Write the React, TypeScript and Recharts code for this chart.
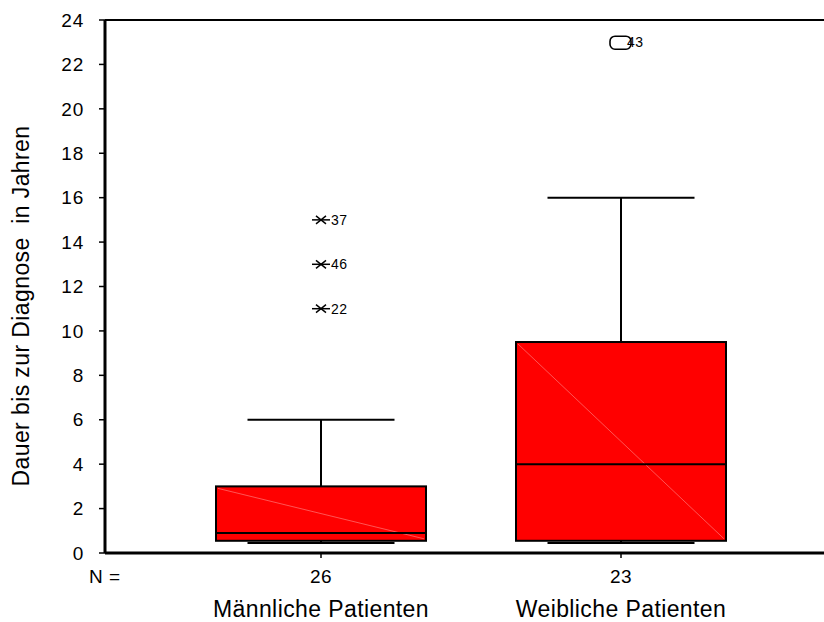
import React from 'react';
import {
  ComposedChart, Bar, Scatter, XAxis, YAxis, ReferenceLine,
} from 'recharts';

// groups and their sample sizes
const groups = ['Männliche Patienten', 'Weibliche Patienten'];
const nCounts = [26, 23];

// five-number summaries per group
const lowWhisker = [0.45, 0.45];
const q1 = [0.55, 0.55];
const median = [0.9, 4];
const q3 = [3, 9.5];
const highWhisker = [6, 16];

// outliers: kind 'ext' = extreme (asterisk), 'out' = outlier (circle)
const outliers = [
  { group: 0, value: 15, id: '37', kind: 'ext' },
  { group: 0, value: 13, id: '46', kind: 'ext' },
  { group: 0, value: 11, id: '22', kind: 'ext' },
  { group: 1, value: 23, id: '43', kind: 'out' },
];

const yTicks = [0, 2, 4, 6, 8, 10, 12, 14, 16, 18, 20, 22, 24];
const yTitle = 'Dauer bis zur Diagnose  in Jahren';

const font = 'Liberation Sans, Arial, sans-serif';
const RED = '#ff0000';

const data = groups.map((g, i) => {
  const row: any = {
    group: g,
    base: lowWhisker[i],
    lowWhisk: q1[i] - lowWhisker[i],
    box: q3[i] - q1[i],
    upWhisk: highWhisker[i] - q3[i],
    median: median[i],
  };
  outliers.forEach((o) => {
    if (o.group === i) row['o' + o.id] = o.value;
  });
  return row;
});

const CAP = 147;

const BoxShape = (p: any) => {
  const { x, y, width, height } = p;
  return (
    <g>
      <rect x={x} y={y} width={width} height={height} fill={RED} stroke="#000" strokeWidth={2} />
      <line x1={x + 2} y1={y + 2} x2={x + width - 2} y2={y + height - 2} stroke="#ff6a6a" strokeWidth={0.8} />
    </g>
  );
};

const LowWhiskerShape = (p: any) => {
  const { x, y, width, height } = p;
  const cx = x + width / 2;
  const by = y + height;
  return (
    <g>
      <line x1={cx} y1={y} x2={cx} y2={by} stroke="#000" strokeWidth={2} />
      <line x1={cx - CAP / 2} y1={by} x2={cx + CAP / 2} y2={by} stroke="#000" strokeWidth={2} />
    </g>
  );
};

const HighWhiskerShape = (p: any) => {
  const { x, y, width, height } = p;
  const cx = x + width / 2;
  return (
    <g>
      <line x1={cx} y1={y} x2={cx} y2={y + height} stroke="#000" strokeWidth={2} />
      <line x1={cx - CAP / 2} y1={y} x2={cx + CAP / 2} y2={y} stroke="#000" strokeWidth={2} />
    </g>
  );
};

const MedianShape = (p: any) => {
  const { cx, cy } = p;
  if (cx == null || cy == null || isNaN(cx) || isNaN(cy)) return <g />;
  return <line x1={cx - 105} y1={cy} x2={cx + 105} y2={cy} stroke="#000" strokeWidth={2} />;
};

const makeOutlierShape = (id: string, kind: string) => (p: any) => {
  const { cx, cy, payload } = p;
  if (payload == null || payload['o' + id] == null || isNaN(cx) || isNaN(cy)) return <g />;
  if (kind === 'ext') {
    return (
      <g>
        <line x1={cx - 9} y1={cy} x2={cx + 9} y2={cy} stroke="#000" strokeWidth={1.5} />
        <line x1={cx - 5} y1={cy - 4} x2={cx + 5} y2={cy + 4} stroke="#000" strokeWidth={1.5} />
        <line x1={cx - 5} y1={cy + 4} x2={cx + 5} y2={cy - 4} stroke="#000" strokeWidth={1.5} />
        <text x={cx + 10} y={cy + 5} fontSize={14} letterSpacing={0.5} fontFamily={font} fill="#000">{id}</text>
      </g>
    );
  }
  return (
    <g>
      <text x={cx + 6} y={cy + 5} fontSize={14} letterSpacing={0.5} fontFamily={font} fill="#000">{id}</text>
      <rect x={cx - 11} y={cy - 6} width={21} height={13} rx={5} fill="none" stroke="#000" strokeWidth={1.6} />
    </g>
  );
};

const XTick = (p: any) => {
  const { x, y, payload } = p;
  const i = groups.indexOf(payload.value);
  return (
    <g fontFamily={font} fill="#000">
      <text x={x} y={y + 23} textAnchor="middle" fontSize={19} letterSpacing={0.5}>{nCounts[i]}</text>
      <text x={x} y={y + 57} textAnchor="middle" fontSize={23} letterSpacing={0.4}>{payload.value}</text>
    </g>
  );
};

export default function App() {
  return (
    <div style={{ position: 'absolute', left: 0, top: 0, background: '#fff' }}>
      <ComposedChart
        width={824}
        height={622}
        data={data}
        margin={{ top: 20, right: 0, bottom: 9, left: 0 }}
      >
        <XAxis
          dataKey="group"
          type="category"
          padding={{ left: 66, right: 53 }}
          height={60}
          tickSize={5}
          tickMargin={2}
          axisLine={{ stroke: '#000', strokeWidth: 3 }}
          tickLine={{ stroke: '#000', strokeWidth: 1.5 }}
          tick={<XTick />}
          interval={0}
          label={{
            content: (lp: any) => {
              const vb = lp.viewBox || { x: 105, y: 553 };
              return (
                <text x={vb.x - 16} y={vb.y + 30} fontFamily={font} fontSize={19} letterSpacing={0.5} fill="#000">N =</text>
              );
            },
          }}
        />
        <YAxis
          type="number"
          domain={[0, 24]}
          ticks={yTicks}
          width={105}
          interval={0}
          tickSize={6}
          tickMargin={15}
          axisLine={{ stroke: '#000', strokeWidth: 3 }}
          tickLine={{ stroke: '#000', strokeWidth: 1.5 }}
          tick={{ fill: '#000', fontSize: 19, fontFamily: font, letterSpacing: 0.8 }}
          label={{
            content: () => {
              const cx = 29;
              const cy = 306;
              return (
                <text
                  x={cx}
                  y={cy}
                  transform={`rotate(-90, ${cx}, ${cy})`}
                  textAnchor="middle"
                  fontFamily={font}
                  fontSize={23}
                  letterSpacing={0.4}
                  fill="#000"
                  style={{ whiteSpace: 'pre' }}
                >
                  {yTitle}
                </text>
              );
            },
          }}
        />
        <ReferenceLine y={24} stroke="#000" strokeWidth={2} />
        <Bar dataKey="base" stackId="b" barSize={210} fill="none" shape={() => <g />} isAnimationActive={false} />
        <Bar dataKey="lowWhisk" stackId="b" barSize={210} shape={LowWhiskerShape} isAnimationActive={false} />
        <Bar dataKey="box" stackId="b" barSize={210} shape={BoxShape} isAnimationActive={false} />
        <Bar dataKey="upWhisk" stackId="b" barSize={210} shape={HighWhiskerShape} isAnimationActive={false} />
        <Scatter dataKey="median" shape={MedianShape} isAnimationActive={false} />
        {outliers.map((o) => (
          <Scatter
            key={o.id}
            dataKey={'o' + o.id}
            shape={makeOutlierShape(o.id, o.kind)}
            isAnimationActive={false}
          />
        ))}
      </ComposedChart>
    </div>
  );
}
